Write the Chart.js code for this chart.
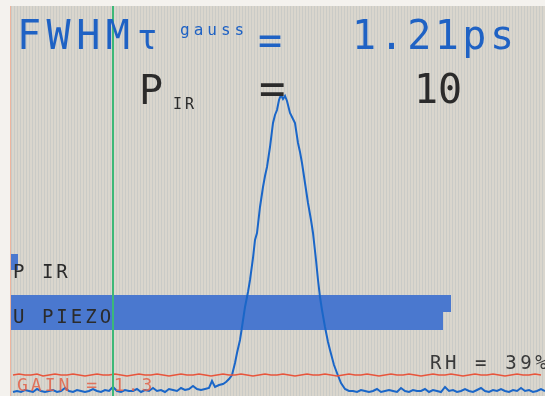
<!DOCTYPE html>
<html>
<head>
<meta charset="utf-8">
<script src="https://cdn.jsdelivr.net/npm/chart.js@4.4.1/dist/chart.umd.min.js"></script>
<style>
  html, body { margin: 0; padding: 0; background: #f4f2ee; }
  #wrap { width: 545px; height: 396px; }
</style>
</head>
<body>
<div id="wrap"><canvas id="c" width="545" height="396"></canvas></div>
<script>
// ---- data (delay channel vs. signal, arbitrary units) ----
const leftBaseline = [4,5,4,6,5,4,7,5,4,5,6,4,5,8,5,4,6,5,4,5,7,5,4,6,5,9,5,4,6,5,5,7,4,6,5,8,5,6,4,7,6,5,8,6,7,10,7];
const leftBaselineStart = 2, baselineStep = 4;
const peakX = [190,194,198,201,204,208,212,215,218,221,224,226,229,231,234,237,239,242,244,246,249,252,254,256,259,262,264,266,268,270,272,274,276,279,282,284,287,289,291,294,297,300,302,305,307,309,311,314,317,319,323,326,330,334,338];
const peakY = [6,7,8,15,9,11,12,14,17,21,33,43,56,69,89,104,116,138,156,163,189,209,220,229,249,273,281,286,296,301,297,300,295,283,277,273,253,244,233,213,193,176,163,136,116,99,86,69,54,46,31,23,13,7,5];
const rightBaseline = [5,4,6,5,4,5,7,4,5,6,5,4,8,5,4,6,5,5,7,4,6,5,4,9,5,6,4,5,7,5,4,6,8,5,4,6,5,7,5,4,6,5,8,5,6,4,5,7,5];
const rightBaselineStart = 342;
const gainLine = [21,22,21,21,22,20,21,22,21,21,22,21,20,21,22,21,21,22,21,20,21,22,21,21,22,21,20,21,22,21,21,22,21,20,21,22,21,21,22,21,20,21,22,21,21,22,21,20,21,22,21,21,22,21,20,21,22,21,21,22,21,20,21,22,21,21,22,21,20,21,22,21,21,22,21,20,21,22,21,21,22,21,20,21,22,21,21,22,21];
const gainStart = 2, gainStep = 6;
const markerX = [102];            // green cursor
const pIRLevel = [7];             // P IR bar length
const pIRBand = [126, 142];
const uPiezoLevel = [440, 432];   // upper / lower part of U PIEZO bar
const uPiezoBand = [66, 84, 101];
const axisX = [0, 534];
const axisY = [0, 390];

// ---- build datasets ----
const trace = [];
leftBaseline.forEach((v, i) => trace.push({x: leftBaselineStart + i * baselineStep, y: v}));
peakX.forEach((x, i) => trace.push({x: x, y: peakY[i]}));
rightBaseline.forEach((v, i) => trace.push({x: rightBaselineStart + i * baselineStep, y: v}));
const gain = gainLine.map((v, i) => ({x: gainStart + i * gainStep, y: v}));
const marker = [{x: markerX[0], y: axisY[0]}, {x: markerX[0], y: axisY[1]}];

const screenPlugin = {
  id: 'screen',
  beforeDraw(chart) {
    const {ctx, chartArea: a} = chart;
    ctx.save();
    ctx.fillStyle = '#f4f2ee';
    ctx.fillRect(0, 0, chart.width, chart.height);
    ctx.fillStyle = '#dad6cd';
    ctx.fillRect(a.left, a.top, a.right - a.left, a.bottom - a.top);
    // faint column texture of the LCD
    for (let x = a.left; x < a.right; x += 3) {
      ctx.fillStyle = 'rgba(140,160,175,0.2)';
      ctx.fillRect(x, a.top, 1, a.bottom - a.top);
    }
    ctx.fillStyle = 'rgba(230,120,80,0.5)';
    ctx.fillRect(a.left - 1, a.top, 1, a.bottom - a.top);
    ctx.restore();
  },
  beforeDatasetsDraw(chart) {
    const {ctx, scales: {x, y}} = chart;
    ctx.save();
    ctx.fillStyle = '#4a78cf';
    // P IR bar
    ctx.fillRect(x.getPixelForValue(0), y.getPixelForValue(pIRBand[1]),
      x.getPixelForValue(pIRLevel[0]) - x.getPixelForValue(0),
      y.getPixelForValue(pIRBand[0]) - y.getPixelForValue(pIRBand[1]));
    // U PIEZO bar (upper and lower halves)
    ctx.fillRect(x.getPixelForValue(0), y.getPixelForValue(uPiezoBand[2]),
      x.getPixelForValue(uPiezoLevel[0]) - x.getPixelForValue(0),
      y.getPixelForValue(uPiezoBand[1]) - y.getPixelForValue(uPiezoBand[2]));
    ctx.fillRect(x.getPixelForValue(0), y.getPixelForValue(uPiezoBand[1]),
      x.getPixelForValue(uPiezoLevel[1]) - x.getPixelForValue(0),
      y.getPixelForValue(uPiezoBand[0]) - y.getPixelForValue(uPiezoBand[1]));
    ctx.restore();
  },
  afterDatasetsDraw(chart) {
    const ctx = chart.ctx;
    const mono = '"DejaVu Sans Mono", monospace';
    function t(s, px, py, size, color, ls, weight) {
      ctx.save();
      ctx.font = (weight || 'normal') + ' ' + size + 'px ' + mono;
      ctx.fillStyle = color;
      ctx.letterSpacing = ls + 'px';
      ctx.textBaseline = 'alphabetic';
      ctx.fillText(s, px, py);
      ctx.restore();
    }
    const blue = '#1f62c4', dark = '#2b2b2b';
    t('FWHM', 17, 49, 40, blue, 5.5);
    t('\u03C4', 137, 49, 34, blue, 0);
    t('gauss', 180, 35, 16, blue, 4);
    t('=', 258, 54, 40, blue, 0);
    t('1.21ps', 352, 49, 40, blue, 3.5);
    t('P', 139, 104, 40, dark, 0);
    t('IR', 173, 109, 15, dark, 3);
    t('=', 259, 104, 44, dark, 0);
    t('10', 414, 103, 40, dark, 0);
    t('P IR', 13, 278, 19, dark, 3);
    t('U PIEZO', 13, 323, 19, dark, 3);
    t('RH = 39%', 430, 369, 19, '#3a3a3a', 3.6);
    t('GAIN = 1.3', 17, 391, 18, 'rgba(226,96,72,0.85)', 3);
  }
};

new Chart(document.getElementById('c'), {
  type: 'scatter',
  data: {
    datasets: [
      { data: marker, showLine: true, borderColor: '#3cb878', borderWidth: 2, pointRadius: 0 },
      { data: gain, showLine: true, borderColor: '#e8553c', borderWidth: 1.6, pointRadius: 0 },
      { data: trace, showLine: true, borderColor: '#1a66c8', borderWidth: 2, pointRadius: 0 }
    ]
  },
  options: {
    responsive: false,
    animation: false,
    devicePixelRatio: 1,
    layout: { padding: { left: 11, top: 6, right: 0, bottom: 0 } },
    plugins: { legend: { display: false }, tooltip: { enabled: false } },
    scales: {
      x: { type: 'linear', min: axisX[0], max: axisX[1], display: false },
      y: { type: 'linear', min: axisY[0], max: axisY[1], display: false }
    }
  },
  plugins: [screenPlugin]
});
</script>
</body>
</html>
